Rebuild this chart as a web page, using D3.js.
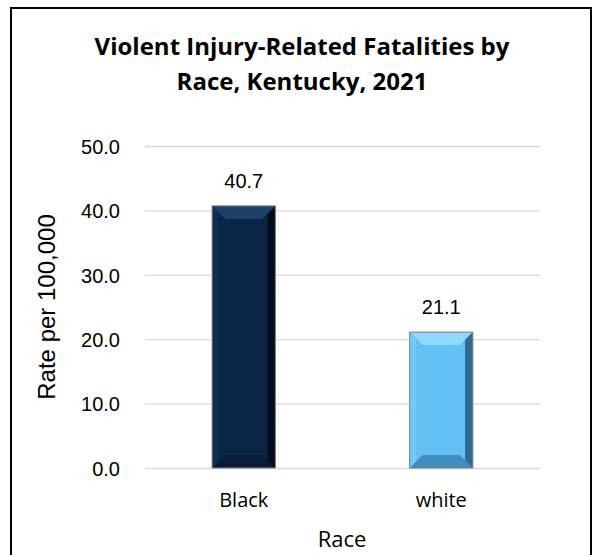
<!DOCTYPE html>
<html><head><meta charset="utf-8">
<script src="https://cdn.jsdelivr.net/npm/d3@7"></script>
<style>body{margin:0;background:#fff}svg{display:block}</style>
</head><body>
<svg id="c" width="603" height="555"></svg>
<script>
const categories = ["Black", "white"];
const values = [40.7, 21.1];
const yTicks = [0, 10, 20, 30, 40, 50];
const titleLines = ["Violent Injury-Related Fatalities by", "Race, Kentucky, 2021"];
const yTitle = "Rate per 100,000";
const xTitle = "Race";

const cal = "'Open Sans', Lato, sans-serif";
const ari = "'Liberation Sans', Arial, sans-serif";
const svg = d3.select("#c");
svg.append("rect").attr("x", 11).attr("y", 8).attr("width", 580).attr("height", 560)
  .attr("fill", "#fff").attr("stroke", "#000").attr("stroke-width", 2);

const plot = {left: 145, right: 540, top: 146, bottom: 468};
const y = d3.scaleLinear().domain([0, 50]).range([plot.bottom, plot.top]);
const x = d3.scaleBand().domain(categories).range([plot.left, plot.right]).paddingInner(0.68).paddingOuter(0.34);

const yAxis = d3.axisLeft(y).tickValues(yTicks).tickSize(-(plot.right - plot.left)).tickFormat(d3.format(".1f"));
const gy = svg.append("g").attr("transform", `translate(${plot.left},0)`).call(yAxis);
gy.select(".domain").remove();
gy.selectAll(".tick line").attr("stroke", "#d9d9d9").attr("stroke-width", 1.3);
gy.selectAll(".tick text").attr("x", -25).attr("dy", "0.36em").attr("font-family", ari).attr("font-size", 20).attr("fill", "#000");

const xAxis = d3.axisBottom(x).tickSize(0);
const gx = svg.append("g").attr("transform", `translate(0,${plot.bottom})`).call(xAxis);
gx.select(".domain").remove();
gx.selectAll(".tick text").attr("dy", 0).attr("y", 39).attr("font-family", cal).attr("font-size", 20).attr("fill", "#000");

const styles = [
  {main: "#0a2646", top: "#1d4268", left: "#0f2e52", right: "#020d1c", bottom: "#071c36"},
  {main: "#63c0f4", top: "#8fd9fc", left: "#72c9f7", right: "#2d6b90", bottom: "#3f8dbd"}
];
const bev = 13;
const bars = svg.append("g").selectAll("g").data(categories).join("g");
bars.each(function(c, i) {
  const g = d3.select(this);
  const x0 = x(c), x1 = x(c) + x.bandwidth();
  const y0 = y(values[i]), y1 = y(0);
  const s = styles[i];
  const b = Math.min(bev, (x1 - x0) / 2);
  g.append("rect").attr("x", x0).attr("y", y0).attr("width", x1 - x0).attr("height", y1 - y0).attr("fill", s.main);
  const poly = (pts, f) => g.append("polygon").attr("points", pts.map(p => p.join(",")).join(" ")).attr("fill", f);
  poly([[x0, y0], [x1, y0], [x1 - b, y0 + b], [x0 + b, y0 + b]], s.top);
  poly([[x0, y1], [x1, y1], [x1 - b, y1 - b], [x0 + b, y1 - b]], s.bottom);
  poly([[x0, y0], [x0 + b * 0.5, y0 + b * 0.5], [x0 + b * 0.5, y1 - b * 0.5], [x0, y1]], s.left);
  poly([[x1, y0], [x1 - b * 0.6, y0 + b * 0.6], [x1 - b * 0.6, y1 - b * 0.6], [x1, y1]], s.right);
  g.append("rect").attr("x", x0).attr("y", y0).attr("width", x1 - x0).attr("height", y1 - y0)
    .attr("fill", "none").attr("stroke", "#7f7f7f").attr("stroke-width", 1);
  g.append("text").attr("x", (x0 + x1) / 2).attr("y", y0 - 18).attr("text-anchor", "middle")
    .attr("font-family", ari).attr("font-size", 20).attr("fill", "#000").text(values[i].toFixed(1));
});

svg.append("g").selectAll("text").data(titleLines).join("text")
  .attr("x", 302).attr("y", (d, i) => 55 + i * 35).attr("text-anchor", "middle")
  .attr("font-family", cal).attr("font-weight", "bold").attr("font-size", 24).attr("fill", "#000").text(d => d);

svg.append("text").attr("transform", "translate(55,307) rotate(-90)").attr("text-anchor", "middle")
  .attr("font-family", ari).attr("font-size", 24).attr("fill", "#000").text(yTitle);
svg.append("text").attr("x", 342).attr("y", 547).attr("text-anchor", "middle")
  .attr("font-family", cal).attr("font-size", 22).attr("fill", "#000").text(xTitle);
</script>
</body></html>
